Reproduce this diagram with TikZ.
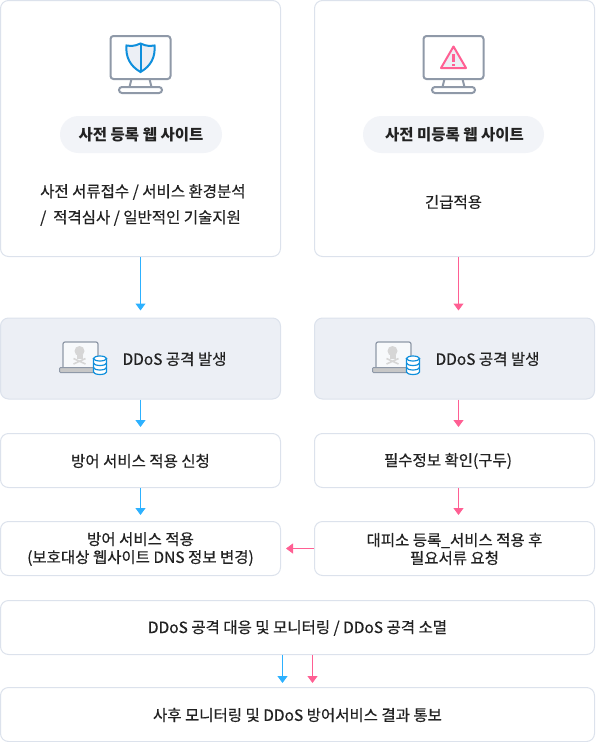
\documentclass[tikz,border=0pt]{standalone}
\usepackage{fontspec}
\setmainfont{Noto Sans CJK KR}[UprightFeatures={FakeBold=0.4}]
\usepackage{tikz}
\usetikzlibrary{arrows.meta,positioning,calc}
\definecolor{edgegray}{HTML}{DCE2EC}
\definecolor{panelgray}{HTML}{ECEFF5}
\definecolor{pillgray}{HTML}{F2F4F8}
\definecolor{icongray}{HTML}{8F99A8}
\definecolor{inkgray}{HTML}{222222}
\definecolor{skyline}{HTML}{2DB1FF}
\definecolor{pinkline}{HTML}{FF5F93}
\definecolor{shieldblue}{HTML}{0F8FDC}
\tikzset{
    card/.style  = {draw=edgegray, fill=white, rounded corners=8pt, line width=1pt, minimum width=280pt, inner sep=0pt},
    bigcard/.style = {card, minimum height=256pt},
    panel/.style = {card, fill=panelgray, minimum height=81pt},
    row/.style   = {card, minimum height=54pt},
    widerow/.style = {row, minimum width=594pt},
    pill/.style  = {fill=pillgray, rounded corners=18.5pt, minimum height=37pt, inner sep=0pt},
    label/.style = {text=inkgray, font=\fontsize{15.5}{18}\selectfont, align=center, inner sep=0pt, yshift=-0.5pt},
    skyarrow/.style  = {draw=skyline, -{Triangle[length=7pt,width=10pt]}, line width=1pt},
    pinkarrow/.style = {draw=pinkline, -{Triangle[length=7pt,width=10pt]}, line width=1pt}
}
\newcommand{\monitoricon}[1]{
  \begin{scope}[shift={(#1,0)}, icongray, line width=2pt]
    \draw[fill=white, rounded corners=3pt] (-30,-36) rectangle (30,-79);
    \draw (-9,-79) -- (-11,-87) (9,-79) -- (11,-87);
    \draw[rounded corners=3pt] (-21.5,-87) rectangle (21.5,-93);
  \end{scope}
}
\newcommand{\laptopicon}[1]{
  \begin{scope}[shift={(#1,0)}]
    \draw[icongray, fill=white!60!panelgray, rounded corners=2pt, line width=1.2pt] (63,-368) -- (63,-342) -- (98,-342) -- (98,-368);
    \draw[icongray, fill=black!22, rounded corners=1pt, line width=1pt] (59.5,-367.5) rectangle (96,-372.5);
    \fill[black!16] (79.5,-351) circle (5pt);
    \fill[black!16] (76.5,-355) rectangle (82.5,-358.5);
    \draw[black!16, line width=1.6pt] (73.5,-358.5) -- (85.5,-364) (85.5,-358.5) -- (73.5,-364);
    \draw[shieldblue, fill=white, line width=1.2pt] (93.5,-358) -- (93.5,-372) arc[start angle=180, end angle=360, x radius=6.5pt, y radius=2.5pt] -- (106.5,-358);
    \draw[shieldblue, fill=white, line width=1.2pt] (100,-358.5) ellipse (6.5pt and 2.5pt);
    \draw[shieldblue, line width=1.2pt] (93.5,-363) arc[start angle=180, end angle=360, x radius=6.5pt, y radius=2.5pt];
    \draw[shieldblue, line width=1.2pt] (93.5,-367.5) arc[start angle=180, end angle=360, x radius=6.5pt, y radius=2.5pt];
  \end{scope}
}
\begin{document}
\begin{tikzpicture}[x=1pt, y=1pt]
  \useasboundingbox (0,0) rectangle (595,-742);

  \node [bigcard] (regcard)  at (140.5,-128.5) {};
  \node [bigcard] (nregcard) at (454.5,-128.5) {};
  \node [panel] (regattack)  at (140.5,-358.5) {};
  \node [panel] (nregattack) at (454.5,-358.5) {};
  \node [row] (apply) at (140.5,-460.5) {};
  \node [row] (check) at (454.5,-460.5) {};
  \node [row] (done)  at (140.5,-548.5) {};
  \node [row] (shelter) at (454.5,-548.5) {};
  \node [widerow] (respond) at (297.5,-627.5) {};
  \node [widerow] (notify)  at (297.5,-714.5) {};

  % monitors
  \monitoricon{140.5}
  \monitoricon{453.5}
  \draw[shieldblue, fill=panelgray, line width=2pt] (140.5,-43.5) .. controls (134,-46.5) and (131,-46) .. (126.5,-45.5) .. controls (125.5,-57) and (130,-66) .. (140.5,-72) .. controls (151,-66) and (155.5,-57) .. (154.5,-45.5) .. controls (150,-46) and (147,-46.5) .. (140.5,-43.5) -- cycle;
  \draw[shieldblue, line width=2pt] (140.5,-43.5) -- (140.5,-72);
  \draw[pinkline, fill=panelgray, line width=2pt, line join=round] (453.5,-46.5) -- (466,-68) -- (441,-68) -- cycle;
  \fill[pinkline] (452,-53.5) rectangle (455,-62);
  \fill[pinkline] (452,-63.5) rectangle (455,-66);

  \node [pill, minimum width=162pt] (regpill)  at (141,-134.5) {};
  \node [pill, minimum width=181pt] (nregpill) at (453.5,-134.5) {};
  \node [label, font=\fontsize{15.5}{18}\selectfont\bfseries] at (regpill)  {사전 등록 웹 사이트};
  \node [label, font=\fontsize{15.5}{18}\selectfont\bfseries] at ([xshift=1pt]nregpill.center) {사전 미등록 웹 사이트};

  \node [label, anchor=west, align=left, font=\fontsize{15.5}{26}\selectfont] at (40,-204.5) {사전 서류접수 / 서비스 환경분석\\/\ \ 적격심사 / 일반적인 기술지원};
  \node [label] at (453.5,-201.5) {긴급적용};

  \laptopicon{0}
  \laptopicon{313}
  \node [label] at (174.5,-358.5) {DDoS 공격 발생};
  \node [label] at (487.5,-358.5) {DDoS 공격 발생};

  \node [label] at (apply) {방어 서비스 적용 신청};
  \node [label] at ([xshift=-6.5pt]check.center) {필수정보 확인(구두)};
  \node [label] at (done) {방어 서비스 적용\\(보호대상 웹사이트 DNS 정보 변경)};
  \node [label] at (shelter) {대피소 등록\_서비스 적용 후\\필요서류 요청};
  \node [label] at (respond) {DDoS 공격 대응 및 모니터링 / DDoS 공격 소멸};
  \node [label] at (notify) {사후 모니터링 및 DDoS 방어서비스 결과 통보};

  \path [skyarrow, shorten >=7pt] (regcard) -- (regattack);
  \path [skyarrow, shorten >=6pt] (regattack) -- (apply);
  \path [skyarrow, shorten >=6pt] (apply) -- (done);
  \path [pinkarrow, shorten >=7pt] ([xshift=4pt]nregcard.south) -- ([xshift=4pt]nregattack.north);
  \path [pinkarrow, shorten >=6pt] ([xshift=4pt]nregattack.south) -- ([xshift=4pt]check.north);
  \path [pinkarrow, shorten >=6pt] ([xshift=4pt]check.south) -- ([xshift=4pt]shelter.north);
  \path [pinkarrow, shorten >=5pt] (shelter.west) -- (done.east);
  \path [skyarrow, shorten >=4pt] ([xshift=-15pt]respond.south) -- ([xshift=-15pt]notify.north);
  \path [pinkarrow, shorten >=4pt] ([xshift=15pt]respond.south) -- ([xshift=15pt]notify.north);
\end{tikzpicture}
\end{document}
